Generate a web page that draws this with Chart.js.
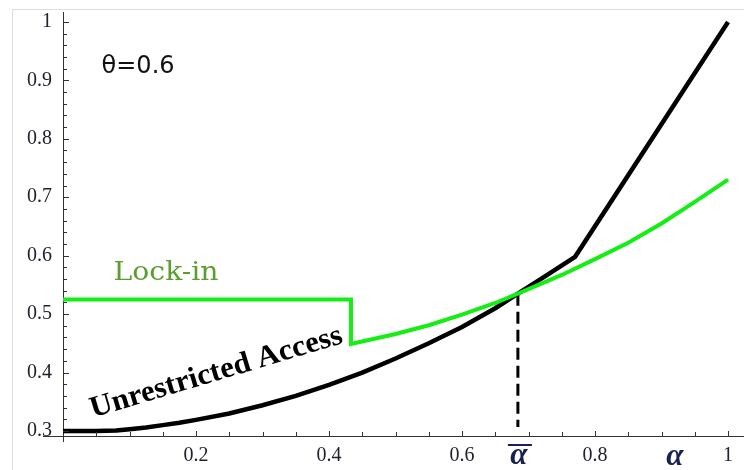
<!DOCTYPE html>
<html>
<head>
<meta charset="utf-8">
<script src="https://cdn.jsdelivr.net/npm/chart.js@4/dist/chart.umd.min.js"></script>
<style>
  html, body { margin: 0; padding: 0; background: #ffffff; }
  canvas { display: block; }
</style>
</head>
<body>
<canvas id="c" width="744" height="470"></canvas>
<script>
// Unrestricted access payoff (black curve), kink near 0.77 then linear to 1
const alphaUnrestricted = [0, 0.05, 0.08, 0.1, 0.125, 0.15, 0.175, 0.2, 0.25, 0.3, 0.35, 0.4, 0.45, 0.5, 0.55, 0.6, 0.65, 0.684, 0.72, 0.77, 1.0];
const unrestricted      = [0.3, 0.3, 0.301, 0.303, 0.306, 0.31, 0.314, 0.319, 0.33, 0.344, 0.36, 0.379, 0.4, 0.424, 0.45, 0.478, 0.51, 0.535, 0.561, 0.598, 1.0];

// Lock-in payoff (green curve) with the drop at about 0.433
const alphaLockIn = [0, 0.433, 0.433, 0.5, 0.55, 0.6, 0.65, 0.684, 0.75, 0.8, 0.85, 0.9, 0.95, 1.0];
const lockIn      = [0.525, 0.525, 0.449, 0.466, 0.481, 0.499, 0.519, 0.535, 0.567, 0.594, 0.622, 0.655, 0.692, 0.73];

// Threshold alpha-bar where the two curves cross
const alphaBar = 0.684;
const alphaBarLine = [0.535, 0.307];

// Tick labels
const xTickLabels = [0.2, 0.4, 0.6, 0.8, 1];
const yTickLabels = [0.3, 0.4, 0.5, 0.6, 0.7, 0.8, 0.9, 1];
const xMinorStep = 0.05;
const yMinorStep = 0.02;

const toPoints = (xs, ys) => xs.map((x, i) => ({ x: x, y: ys[i] }));
const labelFor = (list, v) => {
  const hit = list.find(l => Math.abs(l - v) < 1e-6);
  return hit === undefined ? '' : String(hit);
};

const TICK_COLOR = '#22222e';

// Inward tick marks, axis stubs, frame and text annotations
const decorations = {
  id: 'decorations',
  beforeDraw(chart) {
    const c = chart.ctx;
    c.save();
    c.strokeStyle = '#dcdcdc';
    c.lineWidth = 1;
    c.beginPath();
    c.moveTo(12.5, 470);
    c.lineTo(12.5, 9.5);
    c.lineTo(744, 9.5);
    c.stroke();
    c.restore();
  },
  afterDraw(chart) {
    const c = chart.ctx;
    const xs = chart.scales.x, ys = chart.scales.y;
    const area = chart.chartArea;
    c.save();
    c.strokeStyle = '#333';
    c.lineWidth = 1;
    // axis stubs extending past the origin
    c.beginPath();
    c.moveTo(43, area.bottom + 0.5);
    c.lineTo(area.left, area.bottom + 0.5);
    c.moveTo(area.left + 0.5, area.bottom);
    c.lineTo(area.left + 0.5, area.bottom + 6);
    c.stroke();
    // y ticks pointing right
    c.beginPath();
    for (let i = 15; i <= 50; i++) {
      const v = i * yMinorStep;
      const py = Math.round(ys.getPixelForValue(v)) + 0.5;
      const major = labelFor(yTickLabels, v) !== '';
      c.moveTo(area.left, py);
      c.lineTo(area.left + (major ? 6 : 4), py);
    }
    // x ticks pointing up
    for (let i = 1; i <= 20; i++) {
      const v = i * xMinorStep;
      const px = Math.round(xs.getPixelForValue(v)) + 0.5;
      const major = labelFor(xTickLabels, v) !== '';
      c.moveTo(px, area.bottom);
      c.lineTo(px, area.bottom - (major ? 5 : 4));
    }
    c.stroke();

    // theta label
    c.fillStyle = '#111';
    c.font = '24px "DejaVu Sans"';
    c.textBaseline = 'alphabetic';
    c.textAlign = 'left';
    c.fillText('\u03B8=0.6', xs.getPixelForValue(0.058), ys.getPixelForValue(0.913));

    // Lock-in label
    c.fillStyle = '#5a9e2e';
    c.font = '26px "DejaVu Serif"';
    const lw = c.measureText('Lock-in').width;
    c.save();
    c.translate(xs.getPixelForValue(0.076), ys.getPixelForValue(0.559));
    c.scale(105 / lw, 1);
    c.fillText('Lock-in', 0, 0);
    c.restore();

    // Unrestricted Access label
    c.fillStyle = '#000';
    c.font = 'bold 30px "Liberation Serif"';
    const uw = c.measureText('Unrestricted Access').width;
    c.save();
    c.translate(xs.getPixelForValue(0.045), ys.getPixelForValue(0.323));
    c.rotate(-16.6 * Math.PI / 180);
    c.scale(262 / uw, 1);
    c.fillText('Unrestricted Access', 0, 0);
    c.restore();

    // alpha-bar and alpha under the axis
    c.fillStyle = '#1a2050';
    c.font = 'bold italic 31px "Liberation Serif"';
    c.textAlign = 'center';
    const pxBar = xs.getPixelForValue(alphaBar);
    c.fillText('\u03B1', pxBar + 1, 464);
    c.fillRect(pxBar - 10, 444, 24, 2);
    c.fillText('\u03B1', xs.getPixelForValue(0.92), 465);
    c.restore();
  }
};

new Chart(document.getElementById('c'), {
  type: 'line',
  data: {
    datasets: [
      {
        label: 'Lock-in',
        data: toPoints(alphaLockIn, lockIn),
        borderColor: '#14ee14',
        borderWidth: 4,
        pointRadius: 0,
        tension: 0,
        fill: false,
        order: 0
      },
      {
        label: 'Unrestricted Access',
        data: toPoints(alphaUnrestricted, unrestricted),
        borderColor: '#000000',
        borderWidth: 4.5,
        pointRadius: 0,
        tension: 0,
        fill: false,
        order: 1
      },
      {
        label: 'alpha bar',
        data: toPoints([alphaBar, alphaBar], alphaBarLine),
        borderColor: '#000000',
        borderWidth: 3,
        borderDash: [12, 6],
        pointRadius: 0,
        fill: false,
        order: 2
      }
    ]
  },
  options: {
    responsive: false,
    animation: false,
    devicePixelRatio: 1,
    layout: { padding: { top: 12, left: 0, right: 0, bottom: 0 } },
    plugins: { legend: { display: false }, tooltip: { enabled: false } },
    scales: {
      x: {
        type: 'linear',
        min: 0,
        max: 1.024,
        grid: { display: false, drawTicks: false },
        border: { display: true, color: '#333', width: 1 },
        afterBuildTicks: s => {
          s.ticks = [];
          for (let i = 1; i <= 20; i++) s.ticks.push({ value: Math.round(i * xMinorStep * 100) / 100 });
        },
        afterFit: s => { s.height = 34; s.paddingLeft = 0; s.paddingRight = 0; },
        ticks: {
          autoSkip: false,
          maxRotation: 0,
          padding: 8,
          color: TICK_COLOR,
          font: { family: '"Liberation Serif"', size: 20 },
          callback: v => labelFor(xTickLabels, v)
        }
      },
      y: {
        type: 'linear',
        min: 0.2914,
        max: 1.017,
        grid: { display: false, drawTicks: false },
        border: { display: true, color: '#333', width: 1 },
        afterBuildTicks: s => {
          s.ticks = [];
          for (let i = 15; i <= 50; i++) s.ticks.push({ value: Math.round(i * yMinorStep * 100) / 100 });
        },
        afterFit: s => { s.width = 63; s.paddingTop = 0; s.paddingBottom = 0; },
        ticks: {
          autoSkip: false,
          padding: 11,
          color: TICK_COLOR,
          font: { family: '"Liberation Serif"', size: 20 },
          callback: v => labelFor(yTickLabels, v)
        }
      }
    }
  },
  plugins: [decorations]
});
</script>
</body>
</html>
